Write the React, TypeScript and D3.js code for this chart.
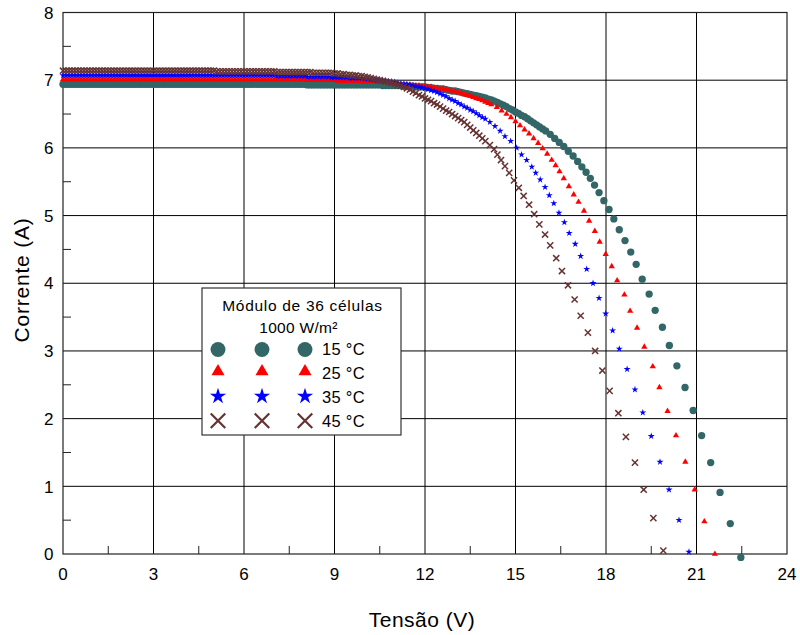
import React from "react";
import * as d3 from "d3";

// Voltage sweep shared by the flat part of every I-V curve (V)
const sweepVoltage = [
  0, 0.1, 0.2, 0.3, 0.4, 0.5, 0.6, 0.7, 0.8, 0.9,
  1, 1.1, 1.2, 1.3, 1.4, 1.5, 1.6, 1.7, 1.8, 1.9,
  2, 2.1, 2.2, 2.3, 2.4, 2.5, 2.6, 2.7, 2.8, 2.9,
  3, 3.1, 3.2, 3.3, 3.4, 3.5, 3.6, 3.7, 3.8, 3.9,
  4, 4.1, 4.2, 4.3, 4.4, 4.5, 4.6, 4.7, 4.8, 4.9,
  5, 5.1, 5.2, 5.3, 5.4, 5.5, 5.6, 5.7, 5.8, 5.9,
  6, 6.1, 6.2, 6.3, 6.4, 6.5, 6.6, 6.7, 6.8, 6.9,
  7, 7.1, 7.2, 7.3, 7.4, 7.5, 7.6, 7.7, 7.8, 7.9,
  8, 8.1, 8.2, 8.3, 8.4, 8.5, 8.6, 8.7, 8.8, 8.9,
  9, 9.1, 9.2, 9.3, 9.4, 9.5, 9.6, 9.7, 9.8, 9.9,
  10, 10.1, 10.2, 10.3, 10.4, 10.5, 10.6, 10.7, 10.8, 10.9,
  11, 11.1, 11.2, 11.3, 11.4, 11.5, 11.6, 11.7, 11.8, 11.9,
  12,
];

// Current on the sweep above (A)
const current15 = [
  6.94, 6.94, 6.94, 6.94, 6.94, 6.94, 6.94, 6.94, 6.94, 6.94,
  6.94, 6.94, 6.94, 6.94, 6.94, 6.94, 6.94, 6.94, 6.94, 6.94,
  6.94, 6.94, 6.94, 6.94, 6.94, 6.94, 6.94, 6.94, 6.94, 6.94,
  6.94, 6.94, 6.94, 6.94, 6.94, 6.94, 6.94, 6.94, 6.94, 6.94,
  6.94, 6.94, 6.94, 6.94, 6.94, 6.94, 6.94, 6.94, 6.94, 6.94,
  6.94, 6.94, 6.94, 6.94, 6.94, 6.94, 6.94, 6.94, 6.94, 6.94,
  6.94, 6.94, 6.94, 6.94, 6.94, 6.94, 6.94, 6.94, 6.94, 6.94,
  6.94, 6.94, 6.94, 6.94, 6.94, 6.94, 6.94, 6.94, 6.94, 6.94,
  6.94, 6.93, 6.93, 6.93, 6.93, 6.93, 6.93, 6.93, 6.93, 6.93,
  6.93, 6.93, 6.93, 6.93, 6.93, 6.93, 6.93, 6.93, 6.93, 6.93,
  6.93, 6.93, 6.93, 6.93, 6.93, 6.93, 6.92, 6.92, 6.92, 6.92,
  6.92, 6.92, 6.92, 6.91, 6.91, 6.91, 6.91, 6.9, 6.9, 6.9,
  6.9,
];
const current25 = [
  7.01, 7.01, 7.01, 7.01, 7.01, 7.01, 7.01, 7.01, 7.01, 7.01,
  7.01, 7.01, 7.01, 7.01, 7.01, 7.01, 7.01, 7.01, 7.01, 7.01,
  7.01, 7.01, 7.01, 7.01, 7.01, 7.01, 7.01, 7.01, 7.01, 7.01,
  7.01, 7.01, 7.01, 7.01, 7.01, 7.01, 7.01, 7.01, 7.01, 7.01,
  7.01, 7.01, 7.01, 7.01, 7.01, 7.01, 7.01, 7.01, 7.01, 7.01,
  7.01, 7.01, 7.01, 7.01, 7.01, 7.01, 7.01, 7.01, 7.01, 7.01,
  7.01, 7.01, 7.01, 7.01, 7.01, 7.01, 7.01, 7.01, 7.01, 7.01,
  7.01, 7.01, 7.01, 7.01, 7.01, 7.01, 7.01, 7.01, 7.01, 7.01,
  7.01, 7.0, 7.0, 7.0, 7.0, 7.0, 7.0, 7.0, 7.0, 7.0,
  7.0, 6.99, 6.99, 6.99, 6.99, 6.99, 6.99, 6.99, 6.99, 6.98,
  6.98, 6.98, 6.98, 6.98, 6.98, 6.97, 6.97, 6.97, 6.97, 6.96,
  6.96, 6.95, 6.94, 6.93, 6.93, 6.93, 6.92, 6.92, 6.92, 6.91,
  6.91,
];
const current35 = [
  7.07, 7.07, 7.07, 7.07, 7.07, 7.07, 7.07, 7.07, 7.07, 7.07,
  7.07, 7.07, 7.07, 7.07, 7.07, 7.07, 7.07, 7.07, 7.07, 7.07,
  7.07, 7.07, 7.07, 7.07, 7.07, 7.07, 7.07, 7.07, 7.07, 7.07,
  7.07, 7.07, 7.07, 7.07, 7.07, 7.07, 7.07, 7.07, 7.07, 7.07,
  7.07, 7.07, 7.07, 7.07, 7.07, 7.07, 7.07, 7.07, 7.07, 7.07,
  7.07, 7.07, 7.07, 7.07, 7.07, 7.07, 7.07, 7.07, 7.07, 7.07,
  7.07, 7.07, 7.07, 7.07, 7.07, 7.07, 7.07, 7.07, 7.07, 7.07,
  7.07, 7.06, 7.06, 7.06, 7.06, 7.06, 7.06, 7.06, 7.06, 7.06,
  7.06, 7.05, 7.05, 7.05, 7.05, 7.05, 7.05, 7.05, 7.05, 7.04,
  7.04, 7.04, 7.04, 7.04, 7.04, 7.03, 7.03, 7.03, 7.03, 7.03,
  7.02, 7.02, 7.01, 7.01, 7.0, 7.0, 6.99, 6.99, 6.98, 6.98,
  6.97, 6.96, 6.95, 6.95, 6.94, 6.93, 6.92, 6.91, 6.9, 6.89,
  6.88,
];
const current45 = [
  7.14, 7.14, 7.14, 7.14, 7.14, 7.14, 7.14, 7.14, 7.14, 7.14,
  7.14, 7.14, 7.14, 7.14, 7.14, 7.14, 7.14, 7.14, 7.14, 7.14,
  7.14, 7.14, 7.14, 7.14, 7.14, 7.14, 7.14, 7.14, 7.14, 7.14,
  7.14, 7.14, 7.14, 7.14, 7.14, 7.14, 7.14, 7.14, 7.14, 7.14,
  7.14, 7.14, 7.14, 7.14, 7.14, 7.14, 7.14, 7.14, 7.14, 7.14,
  7.14, 7.13, 7.13, 7.13, 7.13, 7.13, 7.13, 7.13, 7.13, 7.13,
  7.13, 7.13, 7.13, 7.13, 7.13, 7.13, 7.13, 7.13, 7.13, 7.13,
  7.13, 7.12, 7.12, 7.12, 7.12, 7.12, 7.12, 7.12, 7.12, 7.12,
  7.12, 7.12, 7.12, 7.11, 7.11, 7.11, 7.11, 7.11, 7.11, 7.11,
  7.1, 7.1, 7.09, 7.09, 7.08, 7.08, 7.07, 7.07, 7.06, 7.06,
  7.05, 7.04, 7.03, 7.02, 7.01, 7.0, 6.99, 6.98, 6.97, 6.96,
  6.95, 6.93, 6.92, 6.9, 6.88, 6.86, 6.83, 6.81, 6.78, 6.76,
  6.73,
];

// Knee and open-circuit part of each curve: [V, A]
const tail15: [number, number][] = [
  [12.1, 6.89], [12.2, 6.89], [12.3, 6.88], [12.4, 6.88], [12.5, 6.87], [12.6, 6.87],
  [12.7, 6.86], [12.8, 6.85], [12.9, 6.84], [13.0, 6.84], [13.1, 6.83], [13.2, 6.82],
  [13.3, 6.81], [13.4, 6.8], [13.5, 6.79], [13.6, 6.78], [13.7, 6.77], [13.8, 6.76],
  [13.9, 6.75], [14.0, 6.74], [14.1, 6.72], [14.2, 6.71], [14.3, 6.69], [14.4, 6.67],
  [14.5, 6.65], [14.6, 6.63], [14.7, 6.61], [14.8, 6.58], [14.9, 6.56], [15.0, 6.53],
  [15.1, 6.51], [15.2, 6.48], [15.3, 6.46], [15.4, 6.43], [15.5, 6.4], [15.6, 6.37],
  [15.7, 6.34], [15.8, 6.31], [15.9, 6.28], [16.0, 6.25], [16.15, 6.2], [16.3, 6.14],
  [16.45, 6.08], [16.6, 6.02], [16.75, 5.95], [16.91, 5.88], [17.06, 5.8], [17.2, 5.72],
  [17.34, 5.64], [17.48, 5.55], [17.62, 5.45], [17.77, 5.34], [17.93, 5.22], [18.1, 5.09],
  [18.26, 4.95], [18.44, 4.79], [18.63, 4.63], [18.82, 4.46], [19.0, 4.28], [19.2, 4.06],
  [19.43, 3.84], [19.63, 3.6], [19.87, 3.35], [20.1, 3.08], [20.35, 2.78], [20.62, 2.46],
  [20.89, 2.12], [21.17, 1.75], [21.47, 1.35], [21.78, 0.91], [22.12, 0.45], [22.47, -0.05],
];
const tail25: [number, number][] = [
  [12.1, 6.9], [12.2, 6.9], [12.3, 6.89], [12.4, 6.88], [12.5, 6.87], [12.6, 6.87],
  [12.7, 6.86], [12.8, 6.85], [12.9, 6.84], [13.0, 6.83], [13.1, 6.82], [13.2, 6.81],
  [13.3, 6.79], [13.4, 6.78], [13.5, 6.77], [13.6, 6.75], [13.7, 6.73], [13.8, 6.72],
  [13.9, 6.7], [14.0, 6.68], [14.1, 6.66], [14.2, 6.64], [14.38, 6.6], [14.54, 6.55],
  [14.7, 6.5], [14.85, 6.45], [15.0, 6.39], [15.15, 6.33], [15.3, 6.27], [15.45, 6.21],
  [15.6, 6.14], [15.75, 6.07], [15.9, 5.99], [16.05, 5.91], [16.2, 5.82], [16.33, 5.74],
  [16.46, 5.65], [16.6, 5.55], [16.77, 5.43], [16.93, 5.31], [17.09, 5.2], [17.27, 5.07],
  [17.44, 4.92], [17.63, 4.77], [17.79, 4.61], [17.99, 4.43], [18.19, 4.25], [18.37, 4.04],
  [18.61, 3.83], [18.8, 3.59], [19.03, 3.34], [19.27, 3.06], [19.55, 2.77], [19.77, 2.46],
  [20.04, 2.11], [20.32, 1.75], [20.63, 1.36], [20.94, 0.95], [21.26, 0.48], [21.61, 0.0],
];
const tail35: [number, number][] = [
  [12.1, 6.87], [12.2, 6.85], [12.3, 6.84], [12.4, 6.82], [12.5, 6.8], [12.6, 6.78],
  [12.7, 6.76], [12.8, 6.73], [12.9, 6.71], [13.0, 6.69], [13.1, 6.66], [13.2, 6.64],
  [13.3, 6.61], [13.4, 6.59], [13.5, 6.56], [13.6, 6.54], [13.7, 6.51], [13.8, 6.48],
  [13.9, 6.45], [14.0, 6.43], [14.15, 6.38], [14.32, 6.32], [14.49, 6.25], [14.65, 6.17],
  [14.84, 6.1], [15.04, 6.0], [15.2, 5.9], [15.37, 5.82], [15.54, 5.72], [15.67, 5.63],
  [15.82, 5.53], [15.98, 5.42], [16.12, 5.3], [16.27, 5.18], [16.44, 5.04], [16.62, 4.9],
  [16.78, 4.74], [16.98, 4.58], [17.16, 4.4], [17.36, 4.21], [17.57, 4.0], [17.77, 3.78],
  [17.99, 3.55], [18.22, 3.3], [18.44, 3.03], [18.7, 2.73], [18.96, 2.43], [19.22, 2.09],
  [19.5, 1.74], [19.79, 1.36], [20.09, 0.95], [20.42, 0.5], [20.75, 0.03],
];
const tail45: [number, number][] = [
  [12.1, 6.71], [12.2, 6.69], [12.3, 6.66], [12.4, 6.64], [12.5, 6.61], [12.6, 6.58],
  [12.7, 6.55], [12.8, 6.53], [12.9, 6.5], [13.0, 6.47], [13.1, 6.44], [13.2, 6.41],
  [13.3, 6.38], [13.4, 6.34], [13.5, 6.3], [13.6, 6.26], [13.7, 6.22], [13.8, 6.18],
  [13.9, 6.14], [14.0, 6.1], [14.15, 6.04], [14.29, 5.98], [14.4, 5.9], [14.52, 5.82],
  [14.65, 5.73], [14.79, 5.63], [14.95, 5.52], [15.11, 5.41], [15.27, 5.29], [15.45, 5.16],
  [15.62, 5.02], [15.79, 4.87], [15.98, 4.72], [16.15, 4.56], [16.35, 4.37], [16.54, 4.18],
  [16.74, 3.97], [16.96, 3.76], [17.16, 3.52], [17.4, 3.27], [17.64, 3.0], [17.88, 2.71],
  [18.12, 2.41], [18.41, 2.08], [18.66, 1.73], [18.96, 1.35], [19.25, 0.95], [19.57, 0.53],
  [19.9, 0.05],
];

const seriesLabels = ["15 °C", "25 °C", "35 °C", "45 °C"];
const legendTitle = ["Módulo de 36 células", "1000 W/m²"];
const xTicks = [0, 3, 6, 9, 12, 15, 18, 21, 24];
const yTicks = [0, 1, 2, 3, 4, 5, 6, 7, 8];
const xMinorTicks = [1.5, 4.5, 7.5, 10.5, 13.5, 16.5, 19.5, 22.5];
const yMinorTicks = [0.5, 1.5, 2.5, 3.5, 4.5, 5.5, 6.5, 7.5];
const xTitle = "Tensão (V)";
const yTitle = "Corrente (A)";

const FONT = "'Liberation Sans', Arial, Helvetica, sans-serif";

// "X" marker drawn as two strokes
const symbolCrossX = {
  draw(ctx: any, size: number) {
    const r = Math.sqrt(size) / 2;
    ctx.moveTo(-r, -r);
    ctx.lineTo(r, r);
    ctx.moveTo(r, -r);
    ctx.lineTo(-r, r);
  },
};

type Style = {
  type: any;
  size: number;
  legendSize: number;
  fill: string;
  stroke: string;
  strokeWidth: number;
  legendStrokeWidth: number;
};

const styles: Style[] = [
  { type: d3.symbolCircle, size: 42, legendSize: 175, fill: "#336666", stroke: "none", strokeWidth: 0, legendStrokeWidth: 0 },
  { type: d3.symbolTriangle, size: 17, legendSize: 74, fill: "#ff0000", stroke: "none", strokeWidth: 0, legendStrokeWidth: 0 },
  { type: d3.symbolStar, size: 15, legendSize: 82, fill: "#0000ff", stroke: "none", strokeWidth: 0, legendStrokeWidth: 0 },
  { type: symbolCrossX, size: 38, legendSize: 210, fill: "none", stroke: "#663333", strokeWidth: 1.5, legendStrokeWidth: 2.2 },
];

function buildSeries(current: number[], tail: [number, number][]) {
  const head = d3.zip(sweepVoltage, current) as [number, number][];
  return head.concat(tail);
}

const seriesData = [
  buildSeries(current15, tail15),
  buildSeries(current25, tail25),
  buildSeries(current35, tail35),
  buildSeries(current45, tail45),
];

export default function App() {
  const W = 800;
  const H = 635;
  const left = 63;
  const right = 787;
  const top = 12.5;
  const bottom = 554;

  const x = d3.scaleLinear().domain([0, 24]).range([left, right]);
  const y = d3.scaleLinear().domain([0, 8]).range([bottom, top]);

  const legend = { x: 202, y: 288, w: 199, h: 147 };
  const legendCols = [218, 262, 305];
  const legendRows = [349.5, 371.5, 396.3, 420.8];
  const legendBaselines = [355, 378.7, 402.7, 427.3];

  return (
    <svg
      width={W}
      height={H}
      viewBox={`0 0 ${W} ${H}`}
      style={{ position: "absolute", left: 0, top: 0, display: "block", background: "#fff" }}
      fontFamily={FONT}
    >
      <rect x={0} y={0} width={W} height={H} fill="#fff" />

      {/* grid */}
      <g stroke="#000" strokeWidth={1}>
        {xTicks.slice(1, -1).map((t) => (
          <line key={"gx" + t} x1={x(t)} x2={x(t)} y1={top} y2={bottom} />
        ))}
        {yTicks.slice(1, -1).map((t) => (
          <line key={"gy" + t} x1={left} x2={right} y1={y(t)} y2={y(t)} />
        ))}
      </g>

      {/* minor ticks */}
      <g stroke="#222" strokeWidth={1}>
        {xMinorTicks.map((t) => (
          <line key={"mx" + t} x1={x(t)} x2={x(t)} y1={bottom} y2={bottom - 8} />
        ))}
        {yMinorTicks.map((t) => (
          <line key={"my" + t} x1={left} x2={left + 8} y1={y(t)} y2={y(t)} />
        ))}
      </g>

      {/* frame */}
      <rect x={left} y={top} width={right - left} height={bottom - top} fill="none" stroke="#222" strokeWidth={1.2} />

      {/* tick labels */}
      <g fontSize={17} fill="#000">
        {xTicks.map((t) => (
          <text key={"tx" + t} x={x(t)} y={580} textAnchor="middle">
            {t}
          </text>
        ))}
        {yTicks.map((t) => (
          <text key={"ty" + t} x={53.5} y={y(t) + 6.2} textAnchor="end">
            {t}
          </text>
        ))}
      </g>

      {/* axis titles */}
      <text x={422} y={627} fontSize={21} textAnchor="middle" letterSpacing={0.5}>
        {xTitle}
      </text>
      <text
        transform="translate(29,280) rotate(-90)"
        fontSize={21}
        textAnchor="middle"
        letterSpacing={0.8}
      >
        {yTitle}
      </text>

      {/* data markers */}
      {seriesData.map((pts, si) => {
        const st = styles[si];
        const d = d3.symbol().type(st.type).size(st.size)() as string;
        return (
          <g key={"s" + si} fill={st.fill} stroke={st.stroke} strokeWidth={st.strokeWidth}>
            {pts.map(([v, i], k) => (
              <path key={k} d={d} transform={`translate(${x(v)},${y(i)})`} />
            ))}
          </g>
        );
      })}

      {/* legend */}
      <g>
        <rect x={legend.x} y={legend.y} width={legend.w} height={legend.h} fill="#fff" stroke="#333" strokeWidth={1.2} />
        <text x={302.5} y={310.7} fontSize={15.5} textAnchor="middle" letterSpacing={0.7}>
          {legendTitle[0]}
        </text>
        <text x={298.5} y={333.3} fontSize={15.5} textAnchor="middle" letterSpacing={0.3}>
          {legendTitle[1]}
        </text>
        {seriesLabels.map((lab, si) => {
          const st = styles[si];
          const d = d3.symbol().type(st.type).size(st.legendSize)() as string;
          return (
            <g key={"l" + si}>
              {legendCols.map((cx) => (
                <path
                  key={cx}
                  d={d}
                  transform={`translate(${cx},${legendRows[si]})`}
                  fill={st.fill}
                  stroke={st.stroke}
                  strokeWidth={st.legendStrokeWidth}
                />
              ))}
              <text x={322} y={legendBaselines[si]} fontSize={16.5} letterSpacing={0.3}>
                {lab}
              </text>
            </g>
          );
        })}
      </g>
    </svg>
  );
}
